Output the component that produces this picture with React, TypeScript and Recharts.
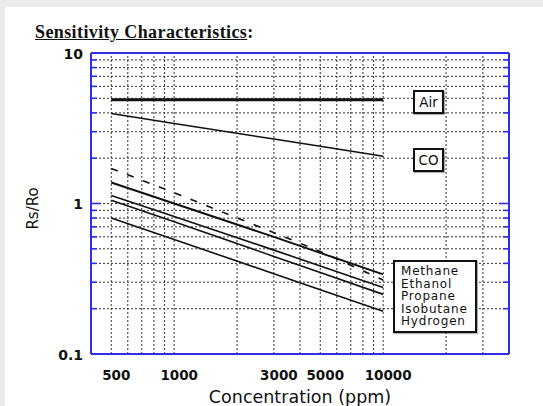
import React from "react";
import { LineChart, Line, XAxis, YAxis, ReferenceLine, Label } from "recharts";

// concentration (ppm) where the curves were read
const concentration = [500, 1000, 3000, 5000, 10000];

// Rs/Ro per gas
const air = [4.9, 4.9, 4.9, 4.9, 4.9];
const co = [3.96, 3.4, 2.68, 2.4, 2.06];
const methane = [1.38, 1.0, 0.6, 0.47, 0.338];
const ethanol = [1.71, 1.18, 0.64, 0.48, 0.31];
const propane = [1.13, 0.82, 0.49, 0.385, 0.277];
const isobutane = [1.05, 0.757, 0.445, 0.348, 0.249];
const hydrogen = [0.8, 0.577, 0.341, 0.267, 0.192];

const xTicks = [500, 1000, 3000, 5000, 10000];
const yTicks = [0.1, 1, 10];
const xMajor = [1000, 10000];
const xGrid = [
  500, 600, 700, 800, 900, 1000, 2000, 3000, 4000, 5000, 6000, 7000, 8000, 9000,
  10000, 20000, 30000,
];
const yGrid = [
  0.1, 0.2, 0.3, 0.4, 0.5, 0.6, 0.7, 0.8, 0.9, 1, 2, 3, 4, 5, 6, 7, 8, 9, 10,
];
const legendNames = ["Methane", "Ethanol", "Propane", "Isobutane", "Hydrogen"];

const data = concentration.map((c, i) => ({
  c,
  air: air[i],
  co: co[i],
  methane: methane[i],
  ethanol: ethanol[i],
  propane: propane[i],
  isobutane: isobutane[i],
  hydrogen: hydrogen[i],
}));

const BLUE = "#2f2fe6";
const SANS = "'DejaVu Sans', Arial, sans-serif";

const sideTick = (dir: number) => (props: any) => {
  const { x, y, payload } = props;
  const len = payload.value === 1 ? 10 : 6;
  return <line x1={x} y1={y} x2={x + dir * len} y2={y} stroke={BLUE} strokeWidth={1.6} />;
};

const boxStyle: React.CSSProperties = {
  position: "absolute",
  background: "#fff",
  border: "2px solid #111",
  boxSizing: "border-box",
  fontFamily: SANS,
  fontSize: 13.5,
  color: "#111",
  boxShadow: "1px 1px 1px rgba(0,0,0,0.3)",
};

export default function App() {
  return (
    <div style={{ position: "absolute", left: 0, top: 0, width: 543, height: 406, background: "#ececec", overflow: "hidden" }}>
      <div style={{ position: "absolute", left: 5, top: 7, width: 538, height: 399, background: "#fff" }} />
      <div
        style={{
          position: "absolute",
          left: 35,
          top: 22,
          fontFamily: "'Liberation Serif', 'Times New Roman', serif",
          fontWeight: 700,
          fontSize: 18,
          letterSpacing: 0.4,
          color: "#111",
          whiteSpace: "nowrap",
        }}
      >
        <u>Sensitivity Characteristics</u>:
      </div>
      <div style={{ position: "absolute", left: 0, top: 0 }}>
        <LineChart width={543} height={406} data={data} margin={{ top: 53, right: 34, bottom: 0, left: 0 }}>
          <XAxis
            xAxisId="x"
            dataKey="c"
            type="number"
            scale="log"
            domain={[400, 40000]}
            allowDataOverflow
            ticks={xTicks}
            interval={0}
            height={52}
            axisLine={false}
            tickLine={false}
            tickSize={14}
            tickMargin={2}
            tick={{ fill: "#111", fontSize: 13.5, fontWeight: 700, fontFamily: SANS, dx: 5 }}
          >
            <Label
              value="Concentration (ppm)"
              position="insideBottom"
              offset={3}
              style={{ fill: "#111", fontSize: 17.5, fontFamily: SANS }}
            />
          </XAxis>
          <XAxis
            xAxisId="bottomFrame"
            orientation="bottom"
            mirror
            type="number"
            scale="log"
            domain={[400, 40000]}
            allowDataOverflow
            ticks={xMajor}
            interval={0}
            tick={false}
            tickSize={10}
            axisLine={{ stroke: BLUE, strokeWidth: 2 }}
            tickLine={{ stroke: BLUE, strokeWidth: 1.6 }}
          />
          <XAxis
            xAxisId="topFrame"
            orientation="top"
            mirror
            type="number"
            scale="log"
            domain={[400, 40000]}
            allowDataOverflow
            ticks={xMajor}
            interval={0}
            tick={false}
            tickSize={8}
            axisLine={{ stroke: BLUE, strokeWidth: 2 }}
            tickLine={{ stroke: BLUE, strokeWidth: 1.6 }}
          />
          <YAxis
            yAxisId="y"
            type="number"
            scale="log"
            domain={[0.1, 10]}
            allowDataOverflow
            ticks={yTicks}
            interval={0}
            width={91}
            axisLine={false}
            tickLine={false}
            tickSize={6}
            tickMargin={2}
            tickFormatter={(v: number) => String(v)}
            tick={{ fill: "#111", fontSize: 14, fontWeight: 700, fontFamily: SANS, dy: 1 }}
          >
            <Label
              value="Rs/Ro"
              angle={-90}
              position="insideLeft"
              offset={33}
              dy={5}
              style={{ fill: "#111", fontSize: 15, fontFamily: SANS, textAnchor: "middle" }}
            />
          </YAxis>
          <YAxis
            yAxisId="leftFrame"
            orientation="left"
            mirror
            type="number"
            scale="log"
            domain={[0.1, 10]}
            allowDataOverflow
            ticks={yGrid}
            interval={0}
            tickSize={0}
            tickMargin={0}
            tickLine={false}
            tick={sideTick(1)}
            axisLine={{ stroke: BLUE, strokeWidth: 2 }}
          />
          <YAxis
            yAxisId="rightFrame"
            orientation="right"
            mirror
            type="number"
            scale="log"
            domain={[0.1, 10]}
            allowDataOverflow
            ticks={yGrid}
            interval={0}
            tickSize={0}
            tickMargin={0}
            tickLine={false}
            tick={sideTick(-1)}
            axisLine={{ stroke: BLUE, strokeWidth: 2 }}
          />

          {xGrid.map((v) => (
            <ReferenceLine key={"gx" + v} xAxisId="x" yAxisId="y" x={v} stroke="#333" strokeDasharray="2 2" strokeWidth={1} />
          ))}
          {yGrid.slice(1, -1).map((v) => (
            <ReferenceLine key={"gy" + v} xAxisId="x" yAxisId="y" y={v} stroke="#333" strokeDasharray="2 2" strokeWidth={1} />
          ))}

          <Line xAxisId="x" yAxisId="y" dataKey="air" type="linear" stroke="#111" strokeWidth={3} dot={false} isAnimationActive={false} />
          <Line xAxisId="x" yAxisId="y" dataKey="co" type="linear" stroke="#111" strokeWidth={1.6} dot={false} isAnimationActive={false} />
          <Line xAxisId="x" yAxisId="y" dataKey="methane" type="linear" stroke="#111" strokeWidth={2} dot={false} isAnimationActive={false} />
          <Line xAxisId="x" yAxisId="y" dataKey="ethanol" type="linear" stroke="#111" strokeWidth={1.6} strokeDasharray="7 10" dot={false} isAnimationActive={false} />
          <Line xAxisId="x" yAxisId="y" dataKey="propane" type="linear" stroke="#111" strokeWidth={1.6} dot={false} isAnimationActive={false} />
          <Line xAxisId="x" yAxisId="y" dataKey="isobutane" type="linear" stroke="#111" strokeWidth={1.6} dot={false} isAnimationActive={false} />
          <Line xAxisId="x" yAxisId="y" dataKey="hydrogen" type="linear" stroke="#111" strokeWidth={1.6} dot={false} isAnimationActive={false} />
        </LineChart>
      </div>

      <div style={{ ...boxStyle, left: 413, top: 90, width: 31, height: 24, lineHeight: "20px", textAlign: "center" }}>Air</div>
      <div style={{ ...boxStyle, left: 413, top: 148, width: 31, height: 24, lineHeight: "20px", textAlign: "center" }}>CO</div>
      <div
        style={{
          ...boxStyle,
          left: 393,
          top: 260,
          width: 84,
          height: 73,
          padding: "3px 0 0 6px",
          fontSize: 12,
          letterSpacing: 0.8,
          lineHeight: "12.6px",
        }}
      >
        {legendNames.map((n) => (
          <div key={n}>{n}</div>
        ))}
      </div>
    </div>
  );
}
